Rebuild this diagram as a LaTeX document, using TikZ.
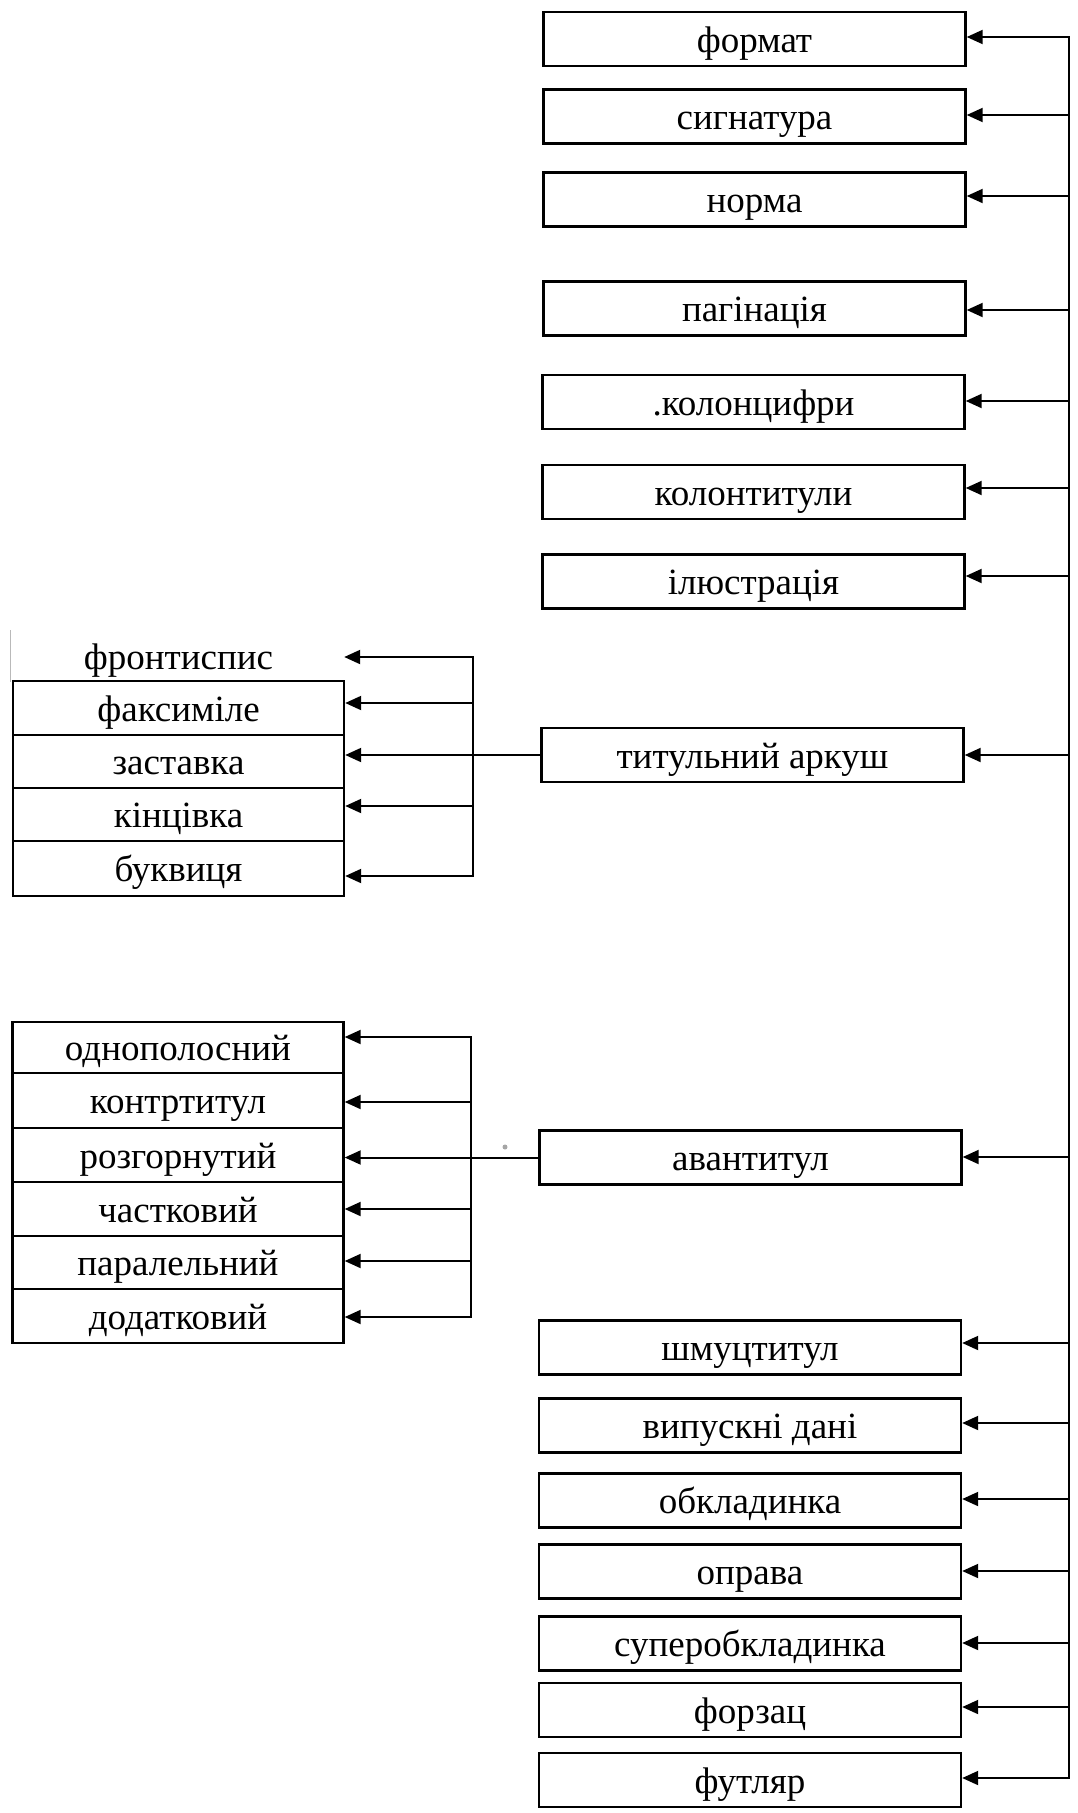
\documentclass[tikz,border=0pt]{standalone}
\usepackage{fontspec}
\setmainfont{Liberation Serif}
\usetikzlibrary{arrows.meta}
\newcommand\dfont{\fontsize{37pt}{40pt}\selectfont}
\begin{document}
\begin{tikzpicture}[x=1pt,y=-1pt,
  basebox/.style={inner sep=0pt, font=\dfont, text height=33pt, text depth=7pt},
  rbox/.style={basebox, draw, line width=2.4pt, minimum width=422pt, minimum height=54pt},
  lbox/.style={basebox, draw, line width=2.4pt, minimum width=331pt, minimum height=#1},
  ltext/.style={basebox, minimum width=331pt, minimum height=#1},
  ln/.style={line width=2pt, line cap=rect},
  arr/.style={line width=2pt, -{Triangle[length=16pt,width=14pt]}}]
\useasboundingbox (0,0) rectangle (1078,1813);

% right column
\node[rbox] (n1) at (754.5,39) {формат};
\node[rbox] (n2) at (754.5,116.5) {сигнатура};
\node[rbox] (n3) at (754.5,199.5) {норма};
\node[rbox] (n4) at (754.5,308.5) {пагінація};
\node[rbox] (n5) at (753.5,402) {.колонцифри};
\node[rbox] (n6) at (753.5,492) {колонтитули};
\node[rbox] (n7) at (753.5,581.5) {ілюстрація};
\node[rbox] (n8) at (752.5,755) {титульний аркуш};
\node[rbox] (n9) at (750.5,1157.5) {авантитул};
\node[rbox] (n10) at (750,1347.5) {шмуцтитул};
\node[rbox] (n11) at (750,1425.5) {випускні дані};
\node[rbox] (n12) at (750,1500.5) {обкладинка};
\node[rbox] (n13) at (750,1571.5) {оправа};
\node[rbox] (n14) at (750,1643.5) {суперобкладинка};
\node[rbox] (n15) at (750,1710) {форзац};
\node[rbox] (n16) at (750,1780) {футляр};

% main bus
\coordinate (b1) at (1069,37);
\coordinate (b2) at (1069,115);
\coordinate (b3) at (1069,196);
\coordinate (b4) at (1069,310);
\coordinate (b5) at (1069,401);
\coordinate (b6) at (1069,488);
\coordinate (b7) at (1069,576);
\coordinate (b8) at (1069,755);
\coordinate (b9) at (1069,1157);
\coordinate (b10) at (1069,1343);
\coordinate (b11) at (1069,1423);
\coordinate (b12) at (1069,1499);
\coordinate (b13) at (1069,1571);
\coordinate (b14) at (1069,1643);
\coordinate (b15) at (1069,1707);
\coordinate (b16) at (1069,1778);
\draw[ln] (b1) -- (b16);
\foreach \i in {1,...,16} {
  \draw[arr] (b\i) -- (b\i -| n\i.east);
}

% title-page group
\node[ltext=53pt] (f1) at (178.5,656.5) {фронтиспис};
\node[lbox=54pt] (f2) at (178.5,708) {факсиміле};
\node[lbox=53pt] (f3) at (178.5,761.5) {заставка};
\node[lbox=53pt] (f4) at (178.5,814.5) {кінцівка};
\node[lbox=55pt] (f5) at (178.5,868.5) {буквиця};
\coordinate (t1) at (473,657);
\coordinate (t2) at (473,703);
\coordinate (t4) at (473,806);
\coordinate (t5) at (473,876);
\draw[ln] (t1) -- (t5);
\draw[arr] (t1) -- (t1 -| f1.east);
\draw[arr] (t2) -- (t2 -| f2.east);
\draw[arr] (t4) -- (t4 -| f4.east);
\draw[arr] (t5) -- (t5 -| f5.east);
\draw[arr] (n8.west) -- (n8.west -| f3.east);
\draw[gray!55, line width=1.2pt] (10.7,630) -- (10.7,682);

% half-title group
\node[lbox=51pt] (a1) at (178,1047.5) {однополосний};
\node[lbox=55pt] (a2) at (178,1100.5) {контртитул};
\node[lbox=54pt] (a3) at (178,1155) {розгорнутий};
\node[lbox=54pt] (a4) at (178,1209) {частковий};
\node[lbox=53pt] (a5) at (178,1262.5) {паралельний};
\node[lbox=54pt] (a6) at (178,1316) {додатковий};
\coordinate (s1) at (471,1037);
\coordinate (s2) at (471,1102);
\coordinate (s4) at (471,1209);
\coordinate (s5) at (471,1261);
\coordinate (s6) at (471,1317);
\draw[ln] (s1) -- (s6);
\draw[arr] (s1) -- (s1 -| a1.east);
\draw[arr] (s2) -- (s2 -| a2.east);
\draw[arr] (s4) -- (s4 -| a4.east);
\draw[arr] (s5) -- (s5 -| a5.east);
\draw[arr] (s6) -- (s6 -| a6.east);
\draw[arr] (n9.west) -- (n9.west -| a3.east);
\fill[gray!70] (505,1147) circle (2.5pt);
\end{tikzpicture}
\end{document}
